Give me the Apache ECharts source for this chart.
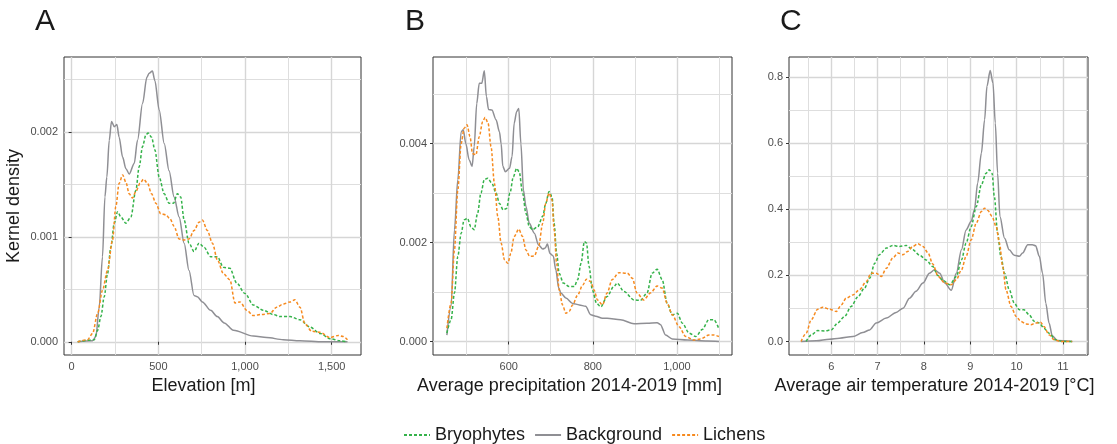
<!DOCTYPE html>
<html>
<head>
<meta charset="utf-8">
<script src="https://cdn.jsdelivr.net/npm/echarts@6/dist/echarts.min.js"></script>
<style>
  html, body { margin: 0; padding: 0; background: #fff; }
  #densityChart { width: 1117px; height: 444px; }
</style>
</head>
<body>
<div id="densityChart"></div>
<script>
  // tick positions
  const elevTicks = [0, 500, 1000, 1500]
  const elevMinor = [250, 750, 1250]
  const densATicks = [0, 0.001, 0.002]
  const densAMinor = [0.0005, 0.0015, 0.0025]
  const precTicks = [600, 800, 1000]
  const precMinor = [500, 700, 900, 1100]
  const densBTicks = [0, 0.002, 0.004]
  const densBMinor = [0.001, 0.003, 0.005]
  const tempTicks = [6, 7, 8, 9, 10, 11]
  const tempMinor = [5.5, 6.5, 7.5, 8.5, 9.5, 10.5, 11.5]
  const densCTicks = [0, 0.2, 0.4, 0.6, 0.8]
  const densCMinor = [0.1, 0.3, 0.5, 0.7]

  const groupNames = ['Bryophytes', 'Background', 'Lichens']

  // A: elevation [m]
  const elevBackground = [[35, 0], [121, 0.00001], [140, 0.00005], [159, 0.00033], [178, 0.00081], [192, 0.00138], [203, 0.00157], [217, 0.00192], [230, 0.0021], [246, 0.00205], [261, 0.00207], [274, 0.00195], [294, 0.00176], [313, 0.00165], [332, 0.0016], [361, 0.0017], [380, 0.00192], [409, 0.00227], [434, 0.00252], [447, 0.00256], [466, 0.00258], [480, 0.00249], [505, 0.00221], [534, 0.00189], [562, 0.00163], [591, 0.00138], [620, 0.00119], [649, 0.00094], [677, 0.00068], [706, 0.00044], [725, 0.00043], [754, 0.00038], [802, 0.0003], [840, 0.00024], [880, 0.00018], [933, 0.00011], [1048, 0.000054], [1125, 0.00004], [1221, 0.00002], [1317, 0.00001], [1450, 0], [1591, 0]]
  const elevBryophytes = [[35, 0], [130, 0.00002], [150, 0.00011], [169, 0.00024], [188, 0.00043], [207, 0.00065], [226, 0.0009], [246, 0.00113], [265, 0.00124], [284, 0.00119], [313, 0.00113], [342, 0.00119], [370, 0.00144], [390, 0.00167], [409, 0.00186], [428, 0.00197], [441, 0.00199], [461, 0.00195], [480, 0.00183], [505, 0.00157], [534, 0.00141], [562, 0.00132], [587, 0.00132], [610, 0.00141], [629, 0.00138], [649, 0.00116], [677, 0.00094], [706, 0.00086], [735, 0.00094], [764, 0.0009], [802, 0.00081], [841, 0.00081], [875, 0.00071], [913, 0.0007], [952, 0.00056], [1000, 0.00046], [1048, 0.00035], [1106, 0.0003], [1163, 0.00026], [1202, 0.00024], [1260, 0.00024], [1317, 0.00021], [1375, 0.00014], [1433, 0.00008], [1490, 0.00003], [1548, 0.00001], [1591, 0]]
  const elevLichens = [[35, 0], [92, 0.00002], [121, 0.00008], [150, 0.00027], [178, 0.00049], [207, 0.00068], [236, 0.00097], [255, 0.00129], [274, 0.00151], [294, 0.00159], [313, 0.00152], [332, 0.00141], [351, 0.00137], [370, 0.00143], [395, 0.00151], [415, 0.00155], [438, 0.00151], [461, 0.00141], [486, 0.00132], [514, 0.00122], [543, 0.00121], [568, 0.00117], [591, 0.0011], [620, 0.00098], [649, 0.00097], [677, 0.00098], [706, 0.00106], [735, 0.00114], [754, 0.00116], [783, 0.00106], [812, 0.00094], [841, 0.00078], [875, 0.00065], [913, 0.00059], [942, 0.00037], [971, 0.00038], [1010, 0.0003], [1048, 0.00025], [1096, 0.00026], [1144, 0.00027], [1183, 0.00033], [1221, 0.00036], [1260, 0.00038], [1288, 0.0004], [1317, 0.00033], [1346, 0.00017], [1385, 0.0001], [1433, 0.00009], [1490, 0.00004], [1538, 0.00006], [1567, 0.00005], [1591, 0.00002]]

  // B: precipitation [mm]
  const precBackground = [[453, 0.00013], [463, 0.00071], [471, 0.00226], [479, 0.00327], [487, 0.00424], [492, 0.00428], [498, 0.004], [506, 0.00367], [513, 0.00354], [518, 0.00394], [524, 0.00481], [530, 0.00522], [536, 0.00522], [542, 0.00547], [547, 0.00495], [552, 0.00469], [560, 0.00468], [570, 0.00448], [578, 0.00424], [582, 0.004], [586, 0.00354], [592, 0.00343], [602, 0.0035], [608, 0.00374], [613, 0.00441], [619, 0.00465], [624, 0.00471], [629, 0.004], [635, 0.00306], [641, 0.00273], [649, 0.00239], [661, 0.00219], [671, 0.00195], [681, 0.00187], [687, 0.00189], [692, 0.00197], [698, 0.00178], [706, 0.00173], [712, 0.00145], [719, 0.00108], [724, 0.00098], [736, 0.00088], [752, 0.00077], [768, 0.00074], [783, 0.00071], [795, 0.00054], [807, 0.00051], [823, 0.00047], [834, 0.00047], [866, 0.00044], [898, 0.00036], [929, 0.00037], [953, 0.00038], [961, 0.00034], [973, 0.00013], [989, 0.00005], [1025, 0.00003], [1072, 0.00001], [1100, 0]]
  const precBryophytes = [[453, 0.00017], [463, 0.00044], [471, 0.00098], [479, 0.00172], [487, 0.00219], [494, 0.00246], [502, 0.00249], [510, 0.00232], [518, 0.00226], [526, 0.00259], [534, 0.003], [542, 0.00327], [550, 0.0033], [560, 0.0032], [570, 0.003], [578, 0.00279], [587, 0.00266], [595, 0.00269], [603, 0.003], [611, 0.00333], [619, 0.0035], [625, 0.00343], [633, 0.003], [641, 0.00259], [649, 0.00232], [657, 0.00226], [669, 0.00232], [681, 0.00253], [688, 0.00279], [696, 0.00303], [703, 0.00293], [708, 0.00239], [714, 0.00178], [720, 0.00138], [730, 0.00118], [744, 0.00111], [756, 0.00111], [764, 0.00125], [772, 0.00158], [780, 0.00202], [785, 0.00199], [791, 0.00152], [799, 0.00104], [809, 0.00077], [819, 0.00070], [834, 0.00091], [850, 0.00111], [858, 0.00118], [874, 0.00101], [898, 0.00084], [913, 0.00083], [929, 0.00098], [941, 0.00138], [953, 0.00146], [965, 0.00125], [977, 0.00077], [989, 0.00054], [1001, 0.00057], [1013, 0.00037], [1029, 0.00017], [1045, 0.0001], [1060, 0.00024], [1076, 0.00044], [1088, 0.00044], [1100, 0.00025]]
  const precLichens = [[453, 0.00027], [463, 0.00077], [471, 0.00185], [479, 0.00306], [487, 0.004], [494, 0.00431], [501, 0.00438], [508, 0.00414], [514, 0.0038], [522, 0.00377], [530, 0.00414], [538, 0.00444], [544, 0.00453], [551, 0.00441], [558, 0.00394], [566, 0.0032], [574, 0.00253], [582, 0.00199], [590, 0.00165], [598, 0.00158], [605, 0.00178], [613, 0.00212], [624, 0.00227], [633, 0.00212], [641, 0.00185], [650, 0.00172], [661, 0.00173], [671, 0.00192], [681, 0.00239], [688, 0.00279], [696, 0.003], [703, 0.00286], [708, 0.00226], [714, 0.00158], [720, 0.00104], [728, 0.00074], [736, 0.00057], [744, 0.00061], [752, 0.00074], [764, 0.00094], [776, 0.00114], [785, 0.00126], [795, 0.00121], [803, 0.00104], [811, 0.00084], [823, 0.00074], [834, 0.00098], [846, 0.00125], [862, 0.00139], [882, 0.00138], [894, 0.00128], [905, 0.00098], [921, 0.00084], [937, 0.00098], [953, 0.00112], [965, 0.00108], [977, 0.00077], [989, 0.00054], [1005, 0.0003], [1021, 0.0001], [1041, 0.00003], [1056, 0.00005], [1076, 0.00013], [1088, 0.00013], [1100, 0.0001]]

  // C: air temperature [°C]
  const tempBackground = [[5.35, 0], [5.68, 0.002], [5.96, 0.007], [6.18, 0.01], [6.47, 0.015], [6.68, 0.027], [6.83, 0.035], [6.97, 0.056], [7.19, 0.071], [7.4, 0.088], [7.55, 0.101], [7.69, 0.131], [7.83, 0.152], [7.98, 0.177], [8.12, 0.207], [8.23, 0.217], [8.34, 0.207], [8.45, 0.177], [8.59, 0.155], [8.7, 0.207], [8.81, 0.278], [8.91, 0.338], [9.02, 0.364], [9.09, 0.399], [9.16, 0.48], [9.24, 0.571], [9.31, 0.672], [9.36, 0.773], [9.43, 0.821], [9.49, 0.783], [9.54, 0.662], [9.59, 0.51], [9.64, 0.379], [9.74, 0.313], [9.84, 0.278], [9.95, 0.261], [10.06, 0.258], [10.13, 0.268], [10.24, 0.293], [10.34, 0.293], [10.41, 0.29], [10.49, 0.258], [10.56, 0.207], [10.63, 0.116], [10.7, 0.056], [10.77, 0.017], [10.88, 0.003], [11.2, 0]]
  const tempBryophytes = [[5.46, 0], [5.57, 0.02], [5.71, 0.033], [5.86, 0.032], [6.0, 0.035], [6.14, 0.056], [6.29, 0.076], [6.43, 0.106], [6.58, 0.136], [6.72, 0.162], [6.83, 0.192], [6.94, 0.237], [7.04, 0.263], [7.19, 0.283], [7.33, 0.291], [7.47, 0.288], [7.62, 0.291], [7.76, 0.278], [7.91, 0.261], [8.05, 0.247], [8.19, 0.227], [8.3, 0.2], [8.41, 0.185], [8.56, 0.172], [8.7, 0.197], [8.81, 0.247], [8.91, 0.298], [9.02, 0.348], [9.13, 0.409], [9.24, 0.475], [9.34, 0.51], [9.41, 0.52], [9.47, 0.51], [9.52, 0.439], [9.59, 0.328], [9.66, 0.258], [9.74, 0.207], [9.84, 0.157], [9.95, 0.116], [10.06, 0.096], [10.16, 0.096], [10.27, 0.081], [10.38, 0.061], [10.49, 0.056], [10.59, 0.04], [10.7, 0.025], [10.84, 0.005], [10.99, 0], [11.2, 0]]
  const tempLichens = [[5.35, 0], [5.46, 0.025], [5.57, 0.066], [5.71, 0.098], [5.82, 0.104], [5.96, 0.098], [6.11, 0.091], [6.22, 0.111], [6.32, 0.131], [6.47, 0.141], [6.61, 0.157], [6.76, 0.182], [6.86, 0.207], [6.97, 0.207], [7.08, 0.197], [7.19, 0.222], [7.33, 0.253], [7.44, 0.268], [7.55, 0.263], [7.65, 0.273], [7.76, 0.288], [7.87, 0.296], [7.98, 0.288], [8.09, 0.268], [8.19, 0.235], [8.31, 0.197], [8.45, 0.177], [8.59, 0.172], [8.7, 0.187], [8.81, 0.217], [8.91, 0.258], [9.02, 0.308], [9.13, 0.359], [9.24, 0.394], [9.31, 0.404], [9.38, 0.397], [9.47, 0.379], [9.56, 0.348], [9.63, 0.298], [9.7, 0.227], [9.77, 0.157], [9.88, 0.106], [9.99, 0.076], [10.09, 0.061], [10.2, 0.053], [10.31, 0.051], [10.41, 0.056], [10.52, 0.058], [10.59, 0.045], [10.7, 0.02], [10.81, 0.005], [10.95, 0], [11.2, 0]]

  const colors = { Bryophytes: '#35b24a', Background: '#8f8f94', Lichens: '#f68a1f' }
  const fontFamily = '"Liberation Sans", Arial, sans-serif'
  const gridTop = 57
  const gridHeight = 298

  // shiftLeft moves the centred x title a little to the left, as in the figure
  function mainAxis (gridIndex, min, max, ticks, formatter, name, isY, shiftLeft) {
    return {
      type: 'value',
      gridIndex: gridIndex,
      min: min,
      max: max,
      name: name,
      nameLocation: 'middle',
      nameGap: isY ? 41 : 21,
      nameTextStyle: {
        fontFamily: fontFamily,
        fontSize: 18,
        color: '#1a1a1a',
        padding: isY ? 0 : [0, (shiftLeft || 0) * 2, 0, 0]
      },
      axisLine: { show: false },
      axisTick: { show: true, length: 3, customValues: ticks, lineStyle: { color: '#333', width: 1 } },
      axisLabel: {
        customValues: ticks,
        formatter: formatter,
        fontFamily: fontFamily,
        fontSize: 11,
        color: '#4d4d4d',
        margin: 6
      },
      splitLine: { show: true, lineStyle: { color: '#d6d6d6', width: 1.4 } }
    }
  }

  function minorAxis (gridIndex, min, max, ticks) {
    return {
      type: 'value',
      gridIndex: gridIndex,
      min: min,
      max: max,
      axisLine: { show: false },
      axisTick: { show: false, customValues: ticks },
      axisLabel: { show: false, customValues: ticks },
      splitLine: { show: true, lineStyle: { color: '#dedede', width: 1 } }
    }
  }

  function curve (name, data, axisIndex) {
    return {
      name: name,
      type: 'line',
      xAxisIndex: axisIndex,
      yAxisIndex: axisIndex,
      data: data,
      symbol: 'none',
      smooth: 0.3,
      smoothMonotone: 'x',
      silent: true,
      lineStyle: {
        color: colors[name],
        width: 1.5,
        type: name === 'Background' ? 'solid' : [3, 2]
      },
      itemStyle: { color: colors[name] }
    }
  }

  const thousands = v => v.toLocaleString('en-US')
  const letterStyle = { fontFamily: fontFamily, fontSize: 30, fontWeight: 'normal', color: '#1a1a1a' }

  const chart = echarts.init(document.getElementById('densityChart'))
  chart.setOption({
    backgroundColor: '#fff',
    animation: false,
    title: [
      { text: 'A', left: 30, top: 2, textStyle: letterStyle },
      { text: 'B', left: 400, top: 2, textStyle: letterStyle },
      { text: 'C', left: 775, top: 2, textStyle: letterStyle }
    ],
    legend: {
      data: groupNames,
      left: 398,
      top: 421,
      itemWidth: 26,
      itemHeight: 12,
      itemGap: 9,
      itemStyle: { opacity: 0 },
      textStyle: { fontFamily: fontFamily, fontSize: 18, color: '#1a1a1a' }
    },
    grid: [
      { left: 64, top: gridTop, width: 297, height: gridHeight, show: true, borderColor: '#333', borderWidth: 1, containLabel: false },
      { left: 433, top: gridTop, width: 299, height: gridHeight, show: true, borderColor: '#333', borderWidth: 1, containLabel: false },
      { left: 789, top: gridTop, width: 299, height: gridHeight, show: true, borderColor: '#333', borderWidth: 1, containLabel: false }
    ],
    xAxis: [
      mainAxis(0, -44, 1669, elevTicks, thousands, 'Elevation [m]', false, 9),
      minorAxis(0, -44, 1669, elevMinor),
      mainAxis(1, 420, 1131, precTicks, thousands, 'Average precipitation 2014-2019 [mm]', false, 13),
      minorAxis(1, 420, 1131, precMinor),
      mainAxis(2, 5.09, 11.54, tempTicks, v => String(v), 'Average air temperature 2014-2019 [°C]', false, 4),
      minorAxis(2, 5.09, 11.54, tempMinor)
    ],
    yAxis: [
      mainAxis(0, -0.000126, 0.002714, densATicks, v => v.toFixed(3), 'Kernel density', true),
      minorAxis(0, -0.000126, 0.002714, densAMinor),
      mainAxis(1, -0.000273, 0.00575, densBTicks, v => v.toFixed(3), '', true),
      minorAxis(1, -0.000273, 0.00575, densBMinor),
      mainAxis(2, -0.041, 0.862, densCTicks, v => v.toFixed(1), '', true),
      minorAxis(2, -0.041, 0.862, densCMinor)
    ],
    series: [
      curve('Background', elevBackground, 0),
      curve('Bryophytes', elevBryophytes, 0),
      curve('Lichens', elevLichens, 0),
      curve('Background', precBackground, 2),
      curve('Bryophytes', precBryophytes, 2),
      curve('Lichens', precLichens, 2),
      curve('Background', tempBackground, 4),
      curve('Bryophytes', tempBryophytes, 4),
      curve('Lichens', tempLichens, 4)
    ]
  })
</script>
</body>
</html>
